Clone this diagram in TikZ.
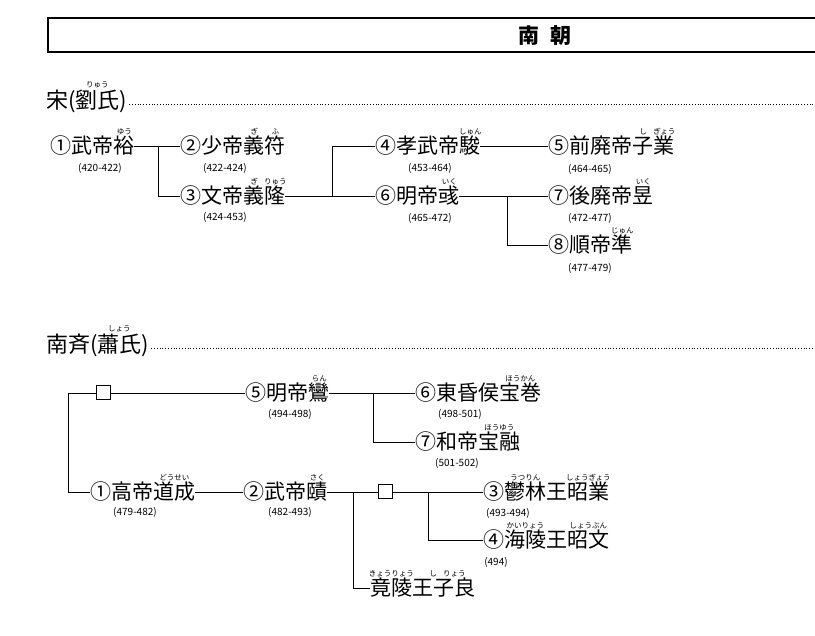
\documentclass[tikz,border=0pt]{standalone}
\usepackage{fontspec}
\setmainfont{Noto Sans CJK JP}
\usetikzlibrary{positioning}
\tikzset{
  person/.style={inner sep=0pt, anchor=west, font=\fontsize{21}{21}\selectfont},
  yrs/.style={inner sep=0pt, font=\fontsize{10}{10}\selectfont},
  furi/.style={inner sep=0pt, anchor=south, font=\fontsize{7.5}{7.5}\selectfont},
  blank/.style={draw, minimum size=14pt, inner sep=0pt, line width=1pt},
  tie/.style={line width=0.9pt}
}
% ruby above the node: #1 node, #2 shift from its east end, #3 text
\newcommand{\furi}[3]{\node[furi] at ([xshift=#2pt,yshift=1pt]#1.north east) {#3};}
\begin{document}
\begin{tikzpicture}[x=1pt, y=-1pt]
\useasboundingbox (0,0) rectangle (815,636);

% header
\draw[line width=1.2pt] (815,18) -- (48,18) -- (48,52) -- (815,52);
\node[font=\fontsize{21}{21}\selectfont\bfseries] (head) at (545,36) {南\hspace{12pt}朝};

% Song
\node[person, font=\fontsize{22}{22}\selectfont] (song) at (46,101) {宋(劉氏)};
\furi{song}{-30}{りゅう}
\draw[dotted, thick] (song.east) ++(2,3) -- (815,104);

\node[person] (s1) at (50,146) {①武帝裕};
\furi{s1}{-10}{ゆう}
\node[yrs] at (100,168) {(420-422)};
\node[person] (s2) at (180,146) {②少帝義符};
\furi{s2}{-31}{ぎ} \furi{s2}{-10}{ふ}
\node[yrs] at (225,168) {(422-424)};
\node[person] (s3) at (180,196) {③文帝義隆};
\furi{s3}{-31}{ぎ} \furi{s3}{-10}{りゅう}
\node[yrs] at (225,217) {(424-453)};
\node[person] (s4) at (375,146) {④孝武帝駿};
\furi{s4}{-10}{しゅん}
\node[yrs] at (430,168) {(453-464)};
\node[person] (s5) at (548,146) {⑤前廃帝子業};
\furi{s5}{-31}{し} \furi{s5}{-10}{ぎょう}
\node[yrs] at (590,169) {(464-465)};
\node[person] (s6) at (375,196) {⑥明帝彧};
\furi{s6}{-10}{いく}
\node[yrs] at (430,218) {(465-472)};
\node[person] (s7) at (548,196) {⑦後廃帝昱};
\furi{s7}{-10}{いく}
\node[yrs] at (590,218) {(472-477)};
\node[person] (s8) at (548,245) {⑧順帝準};
\furi{s8}{-10}{じゅん}
\node[yrs] at (590,268) {(477-479)};

\draw[tie] (s1.east) -- (s2.west);
\draw[tie] (158,146) |- (s3.west);
\draw[tie] (s3.east) -- (s6.west);
\draw[tie] (332,196) |- (s4.west);
\draw[tie] (s4.east) -- (s5.west);
\draw[tie] (s6.east) -- (s7.west);
\draw[tie] (507,196) |- (s8.west);

% Southern Qi
\node[person, font=\fontsize{22}{22}\selectfont] (qi) at (46,345) {南斉(蕭氏)};
\furi{qi}{-30}{しょう}
\draw[dotted, thick] (qi.east) ++(2,3) -- (815,348);

\node[blank] (q0) at (103,393) {};
\node[person] (q5) at (245,393) {⑤明帝鸞};
\furi{q5}{-10}{らん}
\node[yrs] at (290,414) {(494-498)};
\node[person] (q6) at (415,393) {⑥東昏侯宝巻};
\furi{q6}{-21}{ほうかん}
\node[yrs] at (460,414) {(498-501)};
\node[person] (q7) at (415,442) {⑦和帝宝融};
\furi{q7}{-21}{ほうゆう}
\node[yrs] at (457,463) {(501-502)};
\node[person] (q1) at (90,492) {①高帝道成};
\furi{q1}{-21}{どうせい}
\node[yrs] at (135,512) {(479-482)};
\node[person] (q2) at (243,492) {②武帝賾};
\furi{q2}{-10}{さく}
\node[yrs] at (290,512) {(482-493)};
\node[blank] (qb) at (385,492) {};
\node[person] (q3) at (483,492) {③鬱林王昭業};
\furi{q3}{-84}{うつりん} \furi{q3}{-21}{しょうぎょう}
\node[yrs] at (508,513) {(493-494)};
\node[person] (q4) at (483,540) {④海陵王昭文};
\furi{q4}{-84}{かいりょう} \furi{q4}{-21}{しょうぶん}
\node[yrs] at (496,562) {(494)};
\node[person] (qz) at (370,588) {竟陵王子良};
\furi{qz}{-84}{きょうりょう} \furi{qz}{-42}{し} \furi{qz}{-21}{りょう}

\draw[tie] (q0.west) -| (68,492) -- (q1.west);
\draw[tie] (q0.east) -- (q5.west);
\draw[tie] (q5.east) -- (q6.west);
\draw[tie] (373,393) |- (q7.west);
\draw[tie] (q1.east) -- (q2.west);
\draw[tie] (q2.east) -- (qb.west);
\draw[tie] (353,492) |- (qz.west);
\draw[tie] (qb.east) -- (q3.west);
\draw[tie] (428,492) |- (q4.west);
\end{tikzpicture}
\end{document}
